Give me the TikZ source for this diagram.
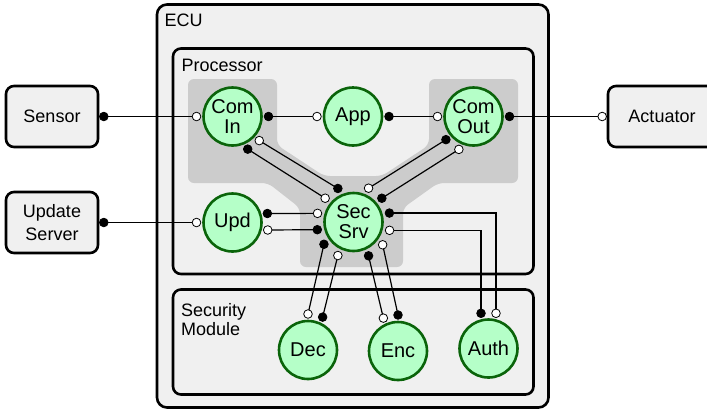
\documentclass[tikz,border=0pt]{standalone}
\usepackage{fontspec}
\setmainfont{Liberation Sans}
\usetikzlibrary{calc}
\definecolor{bgfill}{HTML}{F0F0F0}
\definecolor{regfill}{HTML}{CCCCCC}
\definecolor{compfill}{HTML}{B5FFC8}
\definecolor{compborder}{HTML}{0A640A}
\newcommand\mkport[4]{\coordinate (#1) at ($(#2)+(#3:#4)$);}
\begin{document}
\begin{tikzpicture}[x=1bp,y=-1bp,
  container/.style={draw=black, line width=2.6bp, fill=bgfill, rounded corners=8bp},
  extbox/.style={draw=black, line width=2.6bp, fill=bgfill, rounded corners=8bp,
    minimum height=61bp, inner sep=0pt, align=center,
    font=\fontsize{18bp}{22.5bp}\selectfont},
  comp/.style={circle, draw=compborder, fill=compfill, line width=2.6bp,
    minimum size=58bp, inner sep=0pt, align=center,
    font=\fontsize{20bp}{20bp}\selectfont},
  lbl/.style={inner sep=0pt, anchor=base west, align=left,
    font=\fontsize{18bp}{18.5bp}\selectfont},
  conn/.style={draw=black, line width=1.2bp},
  portb/.style={fill=black, draw=black, line width=0.8bp},
  portw/.style={fill=white, draw=black, line width=0.8bp}
]
\useasboundingbox (0,0) rectangle (707,411);

% containers
\draw[container, rounded corners=10bp] (157,4.5) rectangle (548.5,407.5);
\draw[container] (173,48.5) rectangle (533.5,274);
\draw[container] (173,289.5) rectangle (533.5,394.5);
\node[lbl] (ecul) at (164.5,26) {ECU};
\node[lbl] (procl) at (181.5,71.7) {Processor};
\node[lbl] (secl) at (181,335.2) {Security\\Module};

% grey region
\fill[regfill, rounded corners=6bp] (188,79) -- (277,79) -- (277,145) -- (324,176)
  -- (382,176) -- (429,145) -- (429,79) -- (518,79) -- (518,183) -- (438,183)
  -- (403,208) -- (403,267) -- (300,267) -- (300,208) -- (268,183) -- (188,183) -- cycle;

% external boxes
\node[extbox, minimum width=92bp] (sensor) at (52,116.5) {Sensor};
\node[extbox, minimum width=92bp] (updsrv) at (52,222.5) {Update\\Server};
\node[extbox, minimum width=108bp] (actuator) at (662,116.5) {Actuator};

% components
\node[comp] (comin) at (232.5,116.5) {Com\\In};
\node[comp] (app) at (353,116.5) {App};
\node[comp] (comout) at (473.5,116.5) {Com\\Out};
\node[comp] (upd) at (232.5,222.5) {Upd};
\node[comp] (secsrv) at (353.5,222) {Sec\\Srv};
\node[comp] (dec) at (308,350) {Dec};
\node[comp] (enc) at (398,351) {Enc};
\node[comp] (auth) at (488.5,348.5) {Auth};

% ports
\coordinate (sen-o) at ($(sensor.east)+(4.5,0)$);
\coordinate (us-o) at ($(updsrv.east)+(4.5,0)$);
\coordinate (act-i) at ($(actuator.west)+(-4.5,0)$);
\mkport{ci-i}{comin}{180}{36}
\mkport{ci-o}{comin}{0}{36}
\mkport{ci-w}{comin}{42}{36}
\mkport{ci-b}{comin}{65}{36}
\mkport{ap-i}{app}{180}{36}
\mkport{ap-o}{app}{0}{36}
\mkport{co-i}{comout}{180}{36}
\mkport{co-o}{comout}{0}{36}
\mkport{co-b}{comout}{140}{36}
\mkport{co-w}{comout}{114}{36}
\mkport{up-i}{upd}{180}{36}
\mkport{up-b}{upd}{-14.5}{36}
\mkport{up-w}{upd}{12}{36}
\mkport{ss-lw}{secsrv}{-166.5}{37}
\mkport{ss-lb}{secsrv}{168}{37}
\mkport{ss-ulb}{secsrv}{-115}{37}
\mkport{ss-ulw}{secsrv}{-140}{37}
\mkport{ss-urw}{secsrv}{-66}{37}
\mkport{ss-urb}{secsrv}{-40}{37}
\mkport{ss-rb}{secsrv}{-14}{37}
\mkport{ss-rw}{secsrv}{13}{37}
\mkport{ss-dlb}{secsrv}{143}{37}
\mkport{ss-dlw}{secsrv}{115}{37}
\mkport{ss-drb}{secsrv}{66}{37}
\mkport{ss-drw}{secsrv}{38}{37}
\mkport{de-w}{dec}{-90}{36}
\mkport{de-b}{dec}{-66}{36}
\mkport{en-w}{enc}{-114}{36}
\mkport{en-b}{enc}{-90}{36}
\mkport{au-b}{auth}{-102}{36}
\mkport{au-w}{auth}{-78}{36}

% connectors
\draw[conn] (sen-o) -- (ci-i);
\draw[conn] (ci-o) -- (ap-i);
\draw[conn] (ap-o) -- (co-i);
\draw[conn] (co-o) -- (act-i);
\draw[conn] (us-o) -- (up-i);
\draw[conn] (up-b) -- (ss-lw);
\draw[conn] (up-w) -- (ss-lb);
\draw[conn] (ci-w) -- (ss-ulb);
\draw[conn] (ci-b) -- (ss-ulw);
\draw[conn] (co-b) -- (ss-urw);
\draw[conn] (co-w) -- (ss-urb);
\draw[conn] (ss-rb) -| (au-w);
\draw[conn] (ss-rw) -| (au-b);
\draw[conn] (ss-dlb) -- (de-w);
\draw[conn] (ss-dlw) -- (de-b);
\draw[conn] (ss-drb) -- (en-w);
\draw[conn] (ss-drw) -- (en-b);

% port dots
\foreach \p in {sen-o,us-o,ci-o,ci-b,ap-o,co-o,co-b,up-b,ss-lb,ss-ulb,ss-urb,ss-rb,ss-dlb,ss-drb,de-b,en-b,au-b}
  \draw[portb] (\p) circle (4.3bp);
\foreach \p in {act-i,ci-i,ci-w,ap-i,co-i,co-w,up-i,up-w,ss-lw,ss-ulw,ss-urw,ss-rw,ss-dlw,ss-drw,de-w,en-w,au-w}
  \draw[portw] (\p) circle (4.3bp);
\end{tikzpicture}
\end{document}
